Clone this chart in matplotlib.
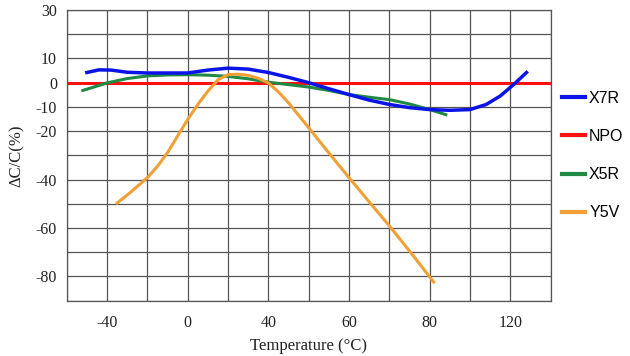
import matplotlib
matplotlib.use("Agg")
import matplotlib.pyplot as plt

# -----------------------------------------------------
#   DATA (x in grid position units, one gridline = 20)
# -----------------------------------------------------
x7r_x = [-50, -44, -38, -30, -20, -10, 0, 10, 20, 30, 40, 50, 60, 70, 80,
         90, 100, 110, 120, 130, 140, 148, 155, 162, 168]
x7r_y = [4.2, 5.3, 5.2, 4.3, 4.0, 4.0, 4.0, 5.2, 6.0, 5.6, 4.2, 2.2, 0.0, -2.5,
         -4.9, -7.2, -9.0, -10.3, -11.1, -11.4, -11.1, -9.0, -5.5, -0.5, 4.2]

npo_x = [-60, 180]
npo_y = [0, 0]

x5r_x = [-52, -45, -40, -30, -20, -10, 0, 10, 20, 30, 40, 50, 60, 70, 80,
         90, 100, 110, 120, 128]
x5r_y = [-3.2, -1.4, -0.1, 1.7, 2.8, 3.2, 3.3, 3.1, 2.6, 1.6, 0.2, -0.8, -1.8,
         -3.2, -4.9, -6.0, -7.0, -8.8, -11.1, -13.2]

y5v_x = [-35, -28, -20, -15, -10, -5, 0, 5, 10, 15, 20, 25, 30, 35, 40, 45,
         50, 60, 70, 80, 90, 100, 110, 122]
y5v_y = [-49.7, -45.0, -39.2, -34.5, -28.9, -22.0, -15.2, -9.0, -3.5, 1.2, 3.3,
         3.5, 3.0, 1.8, -0.1, -3.8, -8.3, -18.6, -29.0, -39.2, -49.2, -59.1,
         -69.5, -82.3]

x_grid = list(range(-60, 181, 20))
x_labels = ["", "-40", "", "0", "", "40", "", "60", "", "80", "", "120", ""]
y_grid = list(range(-90, 31, 10))
y_labeled = [30, 10, 0, -10, -20, -40, -60, -80]

# -----------------------------------------------------
#   PLOT
# -----------------------------------------------------
fig = plt.figure(figsize=(6.3, 3.56), dpi=100)
ax = fig.add_axes([0.1059, 0.1553, 0.7682, 0.8166])

lines = []
lines += ax.plot(x7r_x, x7r_y, color="#0a14e6", lw=2.5, label="X7R", zorder=5)
lines += ax.plot(npo_x, npo_y, color="#ff1010", lw=2.2, label="NPO", zorder=3)
lines += ax.plot(x5r_x, x5r_y, color="#1e8a44", lw=2.2, label="X5R", zorder=4)
lines += ax.plot(y5v_x, y5v_y, color="#f0a035", lw=2.2, label="Y5V", zorder=4)

ax.set_xlim(-60, 180)
ax.set_ylim(-90, 30)
ax.set_xticks(x_grid)
ax.set_xticklabels(x_labels)
ax.set_yticks(y_grid)
ax.set_yticklabels([str(v) if v in y_labeled else "" for v in y_grid])
ax.grid(True, color="#555555", lw=0.9)
ax.set_axisbelow(True)
for s in ax.spines.values():
    s.set_color("#555555")
    s.set_linewidth(0.9)

ax.tick_params(length=0, labelsize=11.5)
ax.tick_params(axis="y", pad=7)
ax.tick_params(axis="x", pad=10)
for t in ax.get_xticklabels() + ax.get_yticklabels():
    t.set_fontfamily("Liberation Serif")
    t.set_color("#222222")

ax.set_xlabel("Temperature (°C)", fontsize=12, family="Liberation Serif",
              color="#222222", labelpad=5)
ax.set_ylabel("ΔC/C(%)", fontsize=12, family="Liberation Serif",
              color="#222222", labelpad=8)

leg = fig.legend(handles=lines, loc="upper left", bbox_to_anchor=(0.892, 0.745),
                 frameon=False, borderpad=0, borderaxespad=0, handlelength=1.45,
                 handletextpad=0.25, labelspacing=1.45,
                 prop={"family": "Liberation Sans", "size": 11.5})
for h in leg.legend_handles:
    h.set_linewidth(3.0)

fig.savefig("out.png", dpi=100, facecolor="white")
